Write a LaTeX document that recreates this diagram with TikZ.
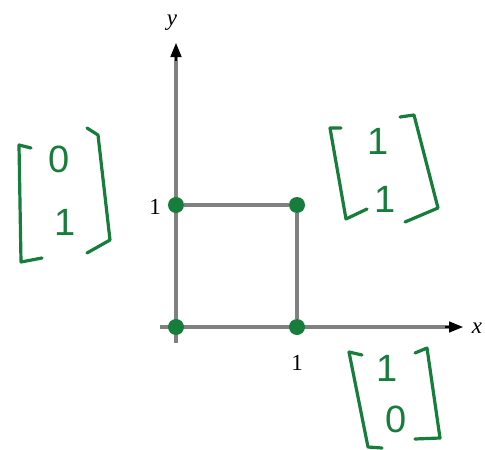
\documentclass[tikz,border=0pt]{standalone}
\usepackage{fontspec}
\usetikzlibrary{arrows.meta}
\setmainfont{Liberation Serif}
\newfontfamily\handfont{Liberation Sans}
\definecolor{inkgreen}{RGB}{22,125,58}
\definecolor{axisgray}{RGB}{128,128,128}
\begin{document}
\begin{tikzpicture}[x=1pt,y=-1pt,>={Triangle[length=14pt,width=11pt]},
  every node/.style={font=\fontsize{23}{25}\selectfont},
  axis/.style={draw=axisgray, line width=3.4pt},
  dot/.style={circle, fill=inkgreen, inner sep=0pt, minimum size=16pt},
  ink/.style={draw=inkgreen, line width=3.2pt, line cap=round, line join=round},
  hand/.style={text=inkgreen, font=\handfont\fontsize{38}{40}\selectfont, inner sep=0pt}]
\useasboundingbox (0,0) rectangle (485,450);

% axes
\coordinate (xstart) at (160,327);
\coordinate (xend) at (463,327);
\coordinate (ystart) at (176,343);
\coordinate (yend) at (176,43);
\draw[axis] (xstart) -- (450,327);
\draw[axis] (ystart) -- (176,56);
\draw[->, line width=1.5pt] (445,327) -- (xend);
\draw[->, line width=1.5pt] (176,61) -- (yend);
\node (xlab) at (477,328) {\textit{x}};
\node (ylab) at (172,23) {\textit{y}};

% unit square
\node[dot] (o) at (176,327) {};
\node[dot] (e1) at (297,327) {};
\node[dot] (e2) at (176,205) {};
\node[dot] (e12) at (297,205) {};
\draw[axis] (e2) -- (e12) -- (e1);
\node (one1) at (155,207) {1};
\node (one2) at (297,363) {1};

% handwritten vectors
\draw[ink] (31,148) -- (19,145) -- (21,262) -- (42,258);
\draw[ink] (87,128) -- (98,135) -- (110,240) -- (87,253);
\node[hand] (v01a) at (59,159) {0};
\node[hand] (v01b) at (65,222) {1};

\draw[ink] (341,128) -- (330,128) -- (346,219) -- (367,209);
\draw[ink] (400,117) -- (414,115) -- (438,208) -- (405,222);
\node[hand] (v11a) at (378,141) {1};
\node[hand] (v11b) at (385,199) {1};

\draw[ink] (362,355) -- (349,352) -- (368,447) -- (382,448);
\draw[ink] (415,353) -- (427,348) -- (440,438) -- (415,439);
\node[hand] (v10a) at (387,368) {1};
\node[hand] (v10b) at (396,419) {0};
\end{tikzpicture}
\end{document}
